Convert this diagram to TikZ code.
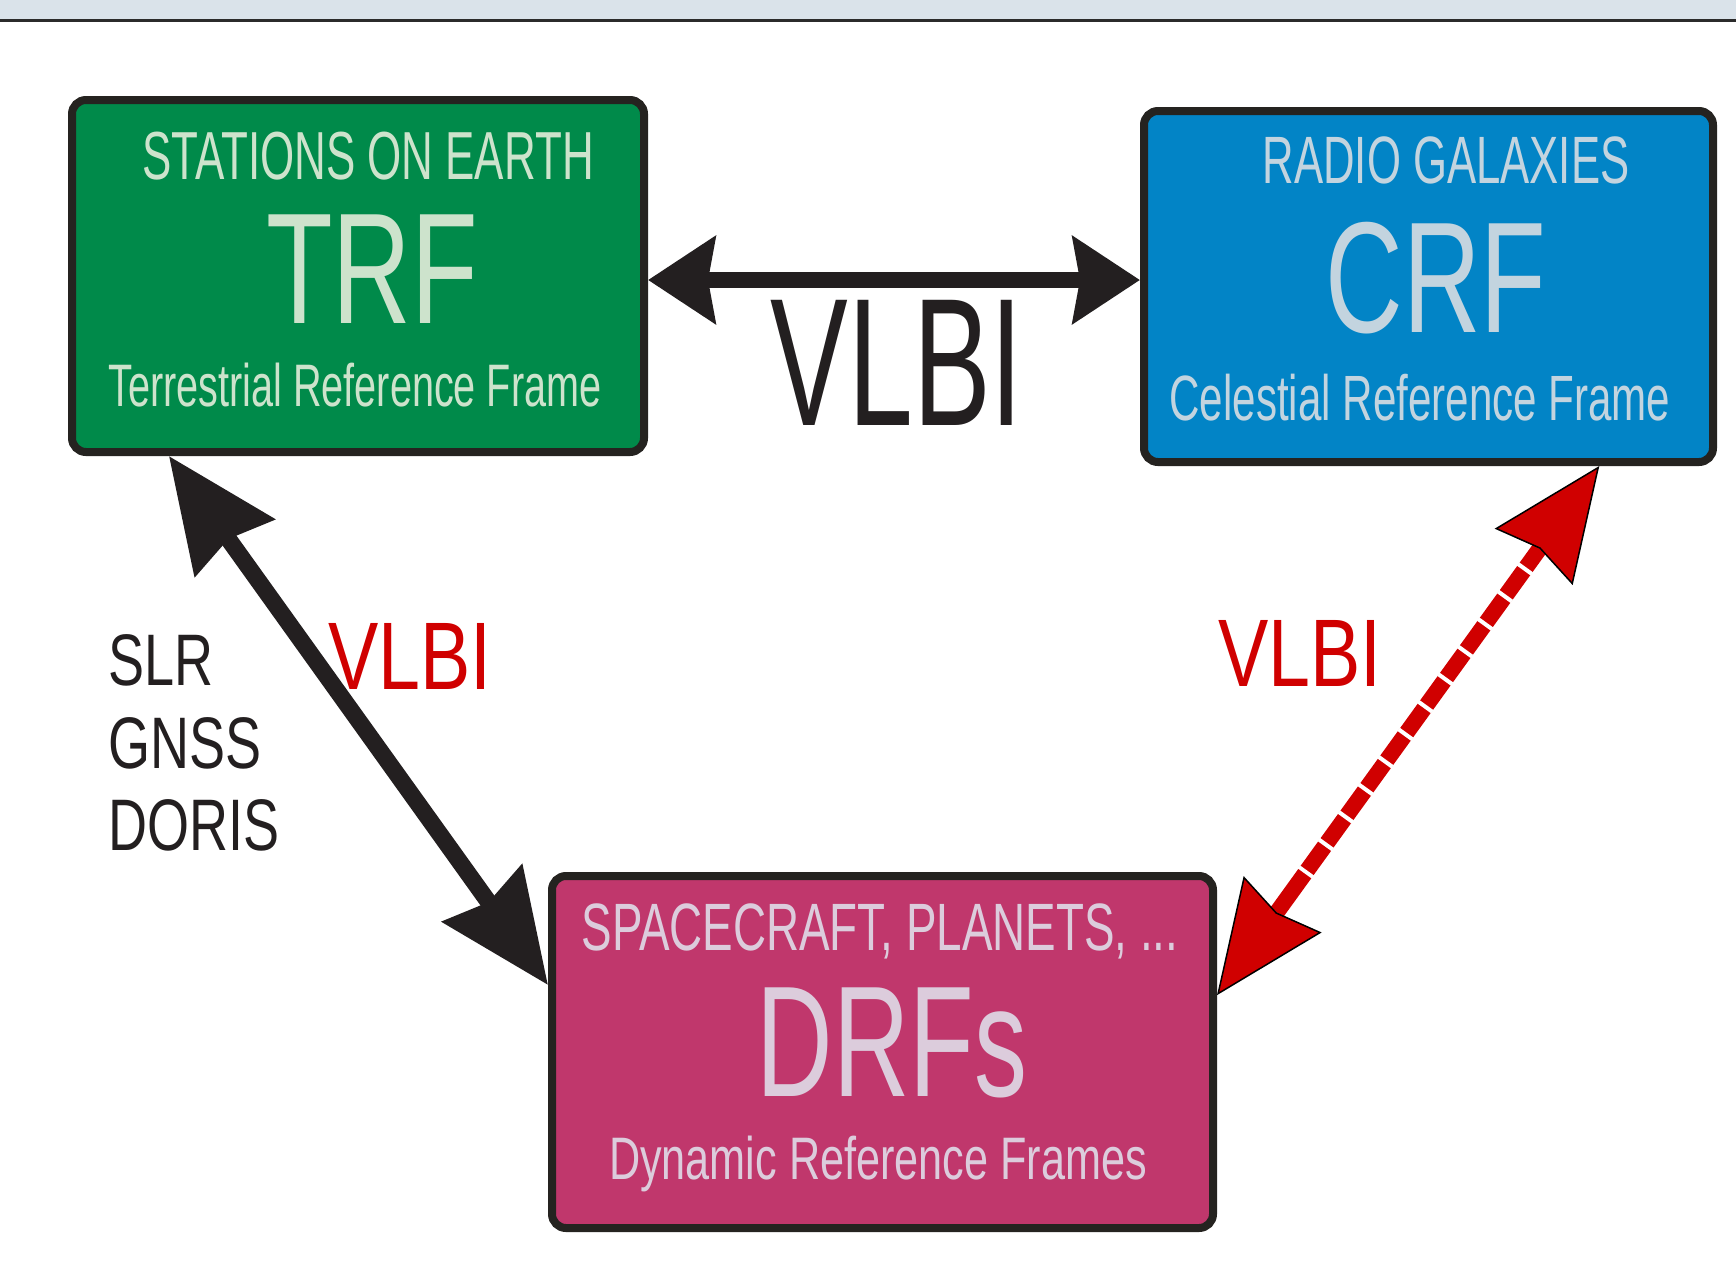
\documentclass[tikz,border=0pt]{standalone}
\usepackage{fontspec}
\setmainfont{Liberation Sans}
\usetikzlibrary{arrows.meta,calc}
\definecolor{stripc}{HTML}{DAE3EA}
\definecolor{stripl}{HTML}{2B2B2B}
\definecolor{bordc}{HTML}{252320}
\definecolor{greenf}{HTML}{008A4A}
\definecolor{greent}{HTML}{CDE3CC}
\definecolor{bluef}{HTML}{0284C6}
\definecolor{bluet}{HTML}{C3D4DF}
\definecolor{magf}{HTML}{C0376C}
\definecolor{magt}{HTML}{DCCCDC}
\definecolor{redc}{HTML}{D00000}
\definecolor{darkc}{HTML}{231F20}
\newcommand\myft[2]{\fontsize{#1pt}{#1pt}\selectfont\addfontfeatures{FakeStretch=#2}}
\tikzset{
  hhead/.tip={Stealth[length=67pt,width=86pt,inset=7pt]},
  dhead/.tip={Stealth[length=112pt,width=96pt,inset=10pt]},
  rhead/.tip={Stealth[length=112pt,width=96pt,inset=10pt,color=black,fill=redc,line width=1.5pt]},
}
\begin{document}
\begin{tikzpicture}[x=1pt,y=-1pt,
  frame/.style={draw=bordc, line width=8pt, rounded corners=14pt, inner sep=0pt},
  lbl/.style={inner sep=0pt, anchor=base},
  blackarrow/.style={draw=darkc, line width=16pt, hhead-hhead},
  diagarrow/.style={draw=darkc, line width=17pt, dhead-dhead},
  redarrow/.style={draw=redc, line width=16pt, rhead-rhead},
  stripes/.style={draw=white, line width=17pt, dash pattern=on 4pt off 30pt}]
\useasboundingbox (0,0) rectangle (1736,1267);
\fill[white] (0,0) rectangle (1736,1267);
% top strip
\fill[stripc] (0,0) rectangle (1736,19);
\draw[stripl, line width=3pt] (0,20.5) -- (1736,20.5);
% boxes
\node[frame, fill=greenf, minimum width=572pt, minimum height=352pt] (trf) at (358,276) {};
\node[frame, fill=bluef, minimum width=569pt, minimum height=351pt] (crf) at (1428.5,286.5) {};
\node[frame, fill=magf, minimum width=661pt, minimum height=352pt] (drf) at (882.5,1052) {};
% box texts
\node[lbl, text=greent] (trfa) at (368,179) {\myft{68}{0.646}STATIONS ON EARTH};
\node[lbl, text=greent] (trfb) at (372,323) {\myft{158}{0.69}TRF};
\node[lbl, text=greent] (trfc) at (355,406) {\myft{60}{0.66}Terrestrial Reference Frame};
\node[lbl, text=bluet] (crfa) at (1446,183) {\myft{67}{0.652}RADIO GALAXIES};
\node[lbl, text=bluet] (crfb) at (1436,332) {\myft{158}{0.68}CRF};
\node[lbl, text=bluet] (crfc) at (1420,420) {\myft{64}{0.658}Celestial Reference Frame};
\node[lbl, text=magt] (drfa) at (880,950) {\myft{67}{0.683}SPACECRAFT, PLANETS, ...};
\node[lbl, text=magt] (drfb) at (892,1096) {\myft{158}{0.67}DRFs};
\node[lbl, text=magt] (drfc) at (878,1179) {\myft{60}{0.72}Dynamic Reference Frames};
% connector labels
\node[lbl, text=darkc] (vlbia) at (897,425) {\myft{182}{0.64}VLBI};
\node[lbl, text=redc] (vlbib) at (410,689) {\myft{96}{0.785}VLBI};
\node[lbl, text=redc] (vlbic) at (1300,686) {\myft{96}{0.785}VLBI};
\node[lbl, anchor=base west, text=darkc] (slr) at (108,685) {\myft{73}{0.74}SLR};
\node[lbl, anchor=base west, text=darkc] (gnss) at (108,768) {\myft{73}{0.74}GNSS};
\node[lbl, anchor=base west, text=darkc] (doris) at (108,850) {\myft{73}{0.74}DORIS};
% connectors
\coordinate (hy) at (0,280);
\draw[blackarrow] (trf.east |- hy) -- (crf.west |- hy);
\coordinate (ta) at ($(trf.south west)!0.174!(trf.south east)$);
\coordinate (da) at ($(drf.north west)!0.314!(drf.south west)$);
\draw[diagarrow] (ta) -- (da);
\coordinate (cb) at ($(crf.south west)!0.796!(crf.south east)$);
\coordinate (db) at ($(drf.north east)!0.342!(drf.south east)$);
\draw[redarrow] (cb) -- (db);
\draw[stripes, shorten <=125pt, shorten >=150pt] (cb) -- (db);
\end{tikzpicture}
\end{document}
